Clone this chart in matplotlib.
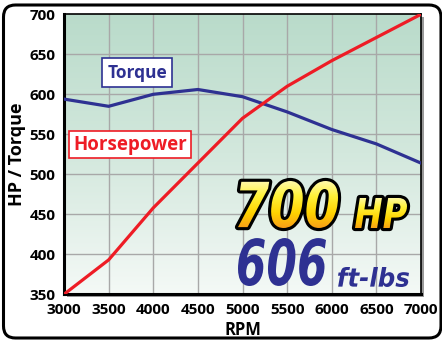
import numpy as np
import matplotlib
matplotlib.use("Agg")
import matplotlib.pyplot as plt
from matplotlib.patches import FancyBboxPatch, PathPatch, Rectangle
from matplotlib.textpath import TextPath
from matplotlib.font_manager import FontProperties
from matplotlib.transforms import Affine2D
from matplotlib.colors import LinearSegmentedColormap

rpm = [3000, 3500, 4000, 4500, 5000, 5500, 6000, 6500, 7000]
horsepower = [350, 393, 458, 514, 570, 610, 642, 671, 700]
torque = [594, 585, 600, 606, 597, 578, 556, 538, 514]
x_ticks = [3000, 3500, 4000, 4500, 5000, 5500, 6000, 6500, 7000]
y_ticks = [350, 400, 450, 500, 550, 600, 650, 700]

W, H = 442, 341
NAVY = "#2e3192"
RED = "#ee1c25"
FONT = "Open Sans"

fig = plt.figure(figsize=(W / 100, H / 100), dpi=100)
fig.patch.set_facecolor("white")

# overlay in pixel coordinates (y down) for the badge text
over = fig.add_axes([0, 0, 1, 1], zorder=5)
over.axis("off")
over.patch.set_alpha(0)

back = fig.add_axes([0, 0, 1, 1], zorder=0)
back.set_xlim(0, W)
back.set_ylim(H, 0)
back.axis("off")
frame = FancyBboxPatch((3.5, 5), 437.5, 333, boxstyle="round,pad=0,rounding_size=12",
                       fc="white", ec="black", lw=2.2)
back.add_patch(frame)

# plot area
L, R, T, B = 64, 421, 14.3, 294.3
ax = fig.add_axes([L / W, 1 - B / H, (R - L) / W, (B - T) / H], zorder=2)

# drop shadow behind the plot area
back.add_patch(Rectangle((L + 3, T + 3), R - L, B - T, fc="#9a9a9a", ec="none"))

ax.set_xlim(3000, 7000)
ax.set_ylim(350, 700)
grad = np.linspace(0, 1, 256).reshape(-1, 1)
bg_cmap = LinearSegmentedColormap.from_list("bg", ["#f4f9f6", "#d3e8dd", "#b9dbca"])
ax.imshow(grad, extent=[3000, 7000, 350, 700], origin="lower", aspect="auto",
          cmap=bg_cmap, zorder=0)
for xv in x_ticks[1:-1]:
    ax.axvline(xv, color="#a8a8a8", lw=1.0, zorder=1)
for yv in y_ticks[1:-1]:
    ax.axhline(yv, color="#a8a8a8", lw=1.0, zorder=1)

ax.plot(rpm, torque, color=NAVY, lw=2.3, zorder=3, solid_joinstyle="miter")
ax.plot(rpm, horsepower, color=RED, lw=2.3, zorder=3, solid_joinstyle="miter")

for side in ["left", "bottom"]:
    ax.spines[side].set_linewidth(2.2)
for side in ["right", "top"]:
    ax.spines[side].set_linewidth(1.2)
for sp in ax.spines.values():
    sp.set_color("black")

ax.set_xticks(x_ticks)
ax.set_yticks(y_ticks)
ax.tick_params(length=0, pad=6)
for lab in ax.get_xticklabels() + ax.get_yticklabels():
    lab.set_fontfamily(FONT)
    lab.set_fontweight("bold")
    lab.set_fontsize(11)
ax.set_xlabel("RPM", fontfamily=FONT, fontweight="bold", fontsize=12, labelpad=3)
ax.set_ylabel("HP / Torque", fontfamily=FONT, fontweight="bold", fontsize=13, labelpad=3)

# series labels
ax.text(3818, 627, "Torque", color=NAVY, fontfamily=FONT, fontweight="bold", fontsize=12.5,
        ha="center", va="center", zorder=4,
        bbox=dict(boxstyle="square,pad=0.3", fc="white", ec=NAVY, lw=1.2))
ax.text(3740, 537, "Horsepower", color=RED, fontfamily=FONT, fontweight="bold", fontsize=13.5,
        ha="center", va="center", zorder=4,
        bbox=dict(boxstyle="square,pad=0.2", fc="white", ec=RED, lw=1.2))


def text_path(s, box):
    """Text outline scaled into a pixel box (x0, y0, x1, y1), y measured downward."""
    fp = FontProperties(family="DejaVu Sans", weight="bold", style="italic")
    p = TextPath((0, 0), s, size=100, prop=fp)
    ext = p.get_extents()
    x0, y0, x1, y1 = box
    sx = (x1 - x0) / ext.width
    sy = (y1 - y0) / ext.height
    tr = Affine2D().translate(-ext.x0, -ext.y1).scale(sx, -sy).translate(x0, y0)
    return tr.transform_path(p)


hp_cmap = LinearSegmentedColormap.from_list(
    "hp", ["#fffbc0", "#fff23a", "#ffd200", "#f7941d"])


def gradient_text(s, box):
    path = text_path(s, box)
    outline = PathPatch(path, fc="none", ec="black", lw=4.5, joinstyle="round", zorder=6)
    over.add_patch(outline)
    fill = PathPatch(path, fc="none", ec="none", zorder=7)
    over.add_patch(fill)
    x0, y0, x1, y1 = box
    im = over.imshow(np.linspace(0, 1, 128).reshape(-1, 1),
                     extent=[x0 - 5, x1 + 5, y1 + 3, y0 - 3],
                     cmap=hp_cmap, aspect="auto", origin="upper", zorder=7)
    im.set_clip_path(fill)


gradient_text("700", (238, 181, 338, 228))
gradient_text("HP", (355, 198, 407, 228))

over.add_patch(PathPatch(text_path("606", (238, 238, 326, 286)), fc=NAVY, ec="none", zorder=6))
over.add_patch(PathPatch(text_path("ft-lbs", (338, 267, 409, 287)), fc=NAVY, ec="none", zorder=6))
over.set_xlim(0, W)
over.set_ylim(H, 0)

fig.savefig("out.png", dpi=100)
